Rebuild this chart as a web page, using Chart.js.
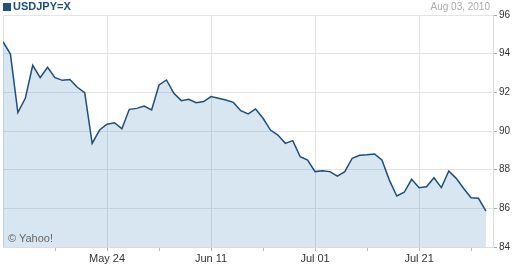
<!DOCTYPE html>
<html>
<head>
<meta charset="utf-8">
<script src="https://cdn.jsdelivr.net/npm/chart.js@4/dist/chart.umd.min.js"></script>
<style>
    body { margin: 0; background: #fff; }
    #wrap { position: relative; width: 515px; height: 268px; font-family: "Liberation Sans", Arial, sans-serif; }
    #chart { position: absolute; left: 0; top: 0; }
    .title { position: absolute; left: 3px; top: 1px; font-size: 11px; font-weight: bold; color: #1f4e7a; line-height: 11px; }
    .title span { display: inline-block; width: 8px; height: 8px; background: #1f5280; margin-right: 2px; vertical-align: -1px; }
    .date { position: absolute; right: 25px; top: 1px; font-size: 10px; color: #aaa; line-height: 11px; }
    .copy { position: absolute; left: 8px; top: 232px; font-size: 11px; color: #666; }
</style>
</head>
<body>
<div id="wrap">
    <canvas id="chart" width="515" height="268"></canvas>
    <div class="title"><span></span>USDJPY=X</div>
    <div class="date">Aug 03, 2010</div>
    <div class="copy">© Yahoo!</div>
</div>
<script>
// trading days, May 04 - Aug 03 2010
var dates = [
    "May 04", "May 05", "May 06", "May 07",
    "May 10", "May 11", "May 12", "May 13", "May 14",
    "May 17", "May 18", "May 19", "May 20", "May 21",
    "May 24", "May 25", "May 26", "May 27", "May 28",
    "May 31", "Jun 01", "Jun 02", "Jun 03", "Jun 04",
    "Jun 07", "Jun 08", "Jun 09", "Jun 10", "Jun 11",
    "Jun 14", "Jun 15", "Jun 16", "Jun 17", "Jun 18",
    "Jun 21", "Jun 22", "Jun 23", "Jun 24", "Jun 25",
    "Jun 28", "Jun 29", "Jun 30", "Jul 01", "Jul 02",
    "Jul 05", "Jul 06", "Jul 07", "Jul 08", "Jul 09",
    "Jul 12", "Jul 13", "Jul 14", "Jul 15", "Jul 16",
    "Jul 19", "Jul 20", "Jul 21", "Jul 22", "Jul 23",
    "Jul 26", "Jul 27", "Jul 28", "Jul 29", "Jul 30",
    "Aug 02", "Aug 03"
];

var closes = [
    94.62, 93.98, 90.95, 91.69,
    93.40, 92.76, 93.30, 92.76, 92.62,
    92.66, 92.26, 91.98, 89.36, 90.05,
    90.35, 90.43, 90.12, 91.12, 91.17,
    91.29, 91.09, 92.38, 92.64, 91.95,
    91.57, 91.64, 91.46, 91.52, 91.78,
    91.69, 91.60, 91.48, 91.05, 90.88,
    91.14, 90.66, 90.05, 89.79, 89.36,
    89.50, 88.67, 88.50, 87.90, 87.95,
    87.90, 87.67, 87.90, 88.59, 88.74,
    88.77, 88.81, 88.50, 87.46, 86.64,
    86.83, 87.50, 87.07, 87.12, 87.58,
    87.07, 87.93, 87.55, 87.03, 86.55,
    86.52, 85.86
];

var yTicks = [84, 86, 88, 90, 92, 94, 96];
var labelEvery = 14;   // one label per 14 trading days, minor tick every 7

var points = closes.map(function (v, i) { return { x: i, y: v }; });

var font = "'Liberation Sans', Arial, sans-serif";

new Chart(document.getElementById("chart").getContext("2d"), {
    type: "line",
    data: {
        datasets: [{
            data: points,
            borderColor: "#1d4e7e",
            borderWidth: 1.5,
            backgroundColor: "rgba(45, 122, 180, 0.19)",
            fill: "start",
            pointRadius: 0,
            tension: 0
        }]
    },
    options: {
        responsive: false,
        animation: false,
        layout: { padding: { top: 15, left: 3, right: 0, bottom: 0 } },
        plugins: { legend: { display: false }, tooltip: { enabled: false } },
        scales: {
            x: {
                type: "linear",
                min: 0,
                max: 65.95,
                afterFit: function (s) { s.height = 21; },
                border: { display: true, color: "#dcdcdc" },
                grid: {
                    tickLength: 4,
                    color: function (c) {
                        if (!c.tick) return "transparent";
                        return c.tick.value % labelEvery === 0 ? "#e4e4e4" : "transparent";
                    },
                    tickColor: function (c) {
                        if (!c.tick || c.tick.value === 0) return "transparent";
                        return "#bbb";
                    }
                },
                ticks: {
                    stepSize: 7,
                    includeBounds: false,
                    autoSkip: false,
                    maxRotation: 0,
                    padding: 1,
                    color: "#333",
                    font: { family: font, size: 11 },
                    callback: function (v) {
                        return (v > 0 && v % labelEvery === 0) ? dates[v] : "";
                    }
                }
            },
            y: {
                position: "right",
                min: yTicks[0],
                max: yTicks[yTicks.length - 1],
                afterFit: function (s) { s.width = 22; },
                afterBuildTicks: function (s) {
                    s.ticks = yTicks.map(function (v) { return { value: v }; });
                },
                border: { display: true, color: "#dcdcdc" },
                grid: { tickLength: 4, color: "#e4e4e4", tickColor: "#aaa" },
                ticks: {
                    padding: 2,
                    color: "#333",
                    font: { family: font, size: 10 }
                }
            }
        }
    }
});
</script>
</body>
</html>
